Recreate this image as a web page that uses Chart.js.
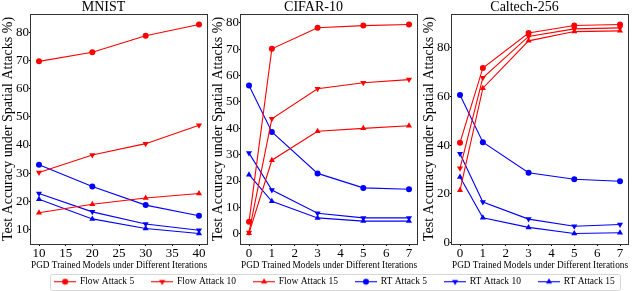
<!DOCTYPE html>
<html>
<head>
<meta charset="utf-8">
<script src="https://cdn.jsdelivr.net/npm/chart.js@4.4.0/dist/chart.umd.min.js"></script>
<style>
body { margin: 0; background: #fff; width: 640px; height: 291px; position: relative; overflow: hidden; }
canvas { position: absolute; }
</style>
</head>
<body>
<canvas id="chartMnist" style="left:-10px;top:0px" width="230" height="272"></canvas>
<canvas id="chartCifar" style="left:200px;top:0px" width="230" height="272"></canvas>
<canvas id="chartCaltech" style="left:411px;top:0px" width="230" height="272"></canvas>
<canvas id="chartLegend" style="left:0px;top:259px" width="640" height="70"></canvas>
<script>
// series names
const seriesNames = ['Flow Attack 5', 'Flow Attack 10', 'Flow Attack 15', 'RT Attack 5', 'RT Attack 10', 'RT Attack 15'];

// MNIST
const mnistIters = [10, 20, 30, 40];
const mnistFlow5 = [69.7, 72.9, 78.8, 82.8];
const mnistFlow10 = [30.3, 36.5, 40.5, 47.0];
const mnistFlow15 = [16.0, 19.0, 21.2, 22.8];
const mnistRT5 = [33.0, 25.3, 18.7, 14.9];
const mnistRT10 = [22.8, 16.3, 12.0, 9.8];
const mnistRT15 = [20.8, 13.8, 10.4, 8.6];
const mnistXTicks = [10, 15, 20, 25, 30, 35, 40];
const mnistYTicks = [10, 20, 30, 40, 50, 60, 70, 80];

// CIFAR-10
const cifarIters = [0, 1, 3, 5, 7];
const cifarFlow5 = [4.5, 70.2, 78.2, 79.0, 79.4];
const cifarFlow10 = [0.5, 43.6, 55.0, 57.3, 58.5];
const cifarFlow15 = [0.2, 27.9, 38.9, 40.0, 41.0];
const cifarRT5 = [56.3, 38.6, 22.9, 17.4, 16.9];
const cifarRT10 = [30.6, 16.6, 7.8, 6.0, 6.0];
const cifarRT15 = [22.4, 12.3, 6.0, 4.8, 4.8];
const cifarXTicks = [0, 1, 2, 3, 4, 5, 6, 7];
const cifarYTicks = [0, 10, 20, 30, 40, 50, 60, 70, 80];

// Caltech-256
const caltechIters = [0, 1, 3, 5, 7];
const caltechFlow5 = [41.0, 71.6, 85.9, 89.0, 89.4];
const caltechFlow10 = [30.5, 67.6, 84.5, 87.6, 88.0];
const caltechFlow15 = [21.5, 63.3, 82.7, 86.5, 86.8];
const caltechRT5 = [60.5, 41.2, 28.7, 26.0, 25.2];
const caltechRT10 = [36.5, 16.7, 9.7, 6.8, 7.5];
const caltechRT15 = [26.9, 10.2, 6.3, 3.8, 4.1];
const caltechXTicks = [0, 1, 2, 3, 4, 5, 6, 7];
const caltechYTicks = [0, 20, 40, 60, 80];

const RED = 'rgb(255, 0, 0)';
const BLUE = 'rgb(0, 0, 255)';
const FONT = "'Liberation Serif', 'DejaVu Serif', serif";
const styles = [
    { color: RED, pointStyle: 'circle', rotation: 0, radius: 3 },
    { color: RED, pointStyle: 'triangle', rotation: 180, radius: 3.5 },
    { color: RED, pointStyle: 'triangle', rotation: 0, radius: 3.5 },
    { color: BLUE, pointStyle: 'circle', rotation: 0, radius: 3 },
    { color: BLUE, pointStyle: 'triangle', rotation: 180, radius: 3.5 },
    { color: BLUE, pointStyle: 'triangle', rotation: 0, radius: 3.5 }
];

// caixa em volta da area do grafico
const framePlugin = {
    id: 'frame',
    afterDraw(chart) {
        const a = chart.chartArea;
        const g = chart.ctx;
        g.save();
        g.strokeStyle = '#333';
        g.lineWidth = 1;
        g.strokeRect(Math.round(a.left) - 0.5, Math.round(a.top) + 0.5, Math.round(a.right - a.left) + 1, Math.round(a.bottom - a.top));
        g.restore();
    }
};

function montarDatasets(iters, series) {
    return series.map((vals, i) => ({
        label: seriesNames[i],
        data: iters.map((x, j) => ({ x: x, y: vals[j] })),
        borderColor: styles[i].color,
        backgroundColor: styles[i].color,
        pointStyle: styles[i].pointStyle,
        rotation: styles[i].rotation,
        pointRadius: styles[i].radius,
        pointBorderWidth: 0,
        borderWidth: 1.1,
        tension: 0
    }));
}

function criarPainel(id, titulo, iters, series, xTicks, yTicks, xLim, yLim) {
    const ctx = document.getElementById(id).getContext('2d');
    return new Chart(ctx, {
        type: 'line',
        data: { datasets: montarDatasets(iters, series) },
        options: {
            responsive: false,
            animation: false,
            devicePixelRatio: 1,
            layout: { padding: { left: 10, right: 13, top: 0, bottom: 0 } },
            plugins: {
                legend: { display: false },
                tooltip: { enabled: false },
                title: {
                    display: true,
                    text: titulo,
                    color: '#000',
                    font: { family: FONT, size: 14, weight: 'normal', lineHeight: 1 },
                    padding: { top: 0, bottom: 0 }
                }
            },
            scales: {
                x: {
                    type: 'linear',
                    min: xLim[0],
                    max: xLim[1],
                    afterBuildTicks: s => { s.ticks = xTicks.map(v => ({ value: v })); },
                    afterFit: s => { s.height = 28; },
                    border: { display: false },
                    grid: { drawOnChartArea: false, drawTicks: true, tickLength: 2, color: '#000' },
                    ticks: { color: '#000', padding: 1, maxRotation: 0, autoSkip: false, font: { family: FONT, size: 13, lineHeight: 1 } },
                    title: {
                        display: true,
                        text: 'PGD Trained Models under Different Iterations',
                        color: '#000',
                        font: { family: FONT, size: 11.4, lineHeight: 1.2 },
                        padding: { top: 0, bottom: 0 }
                    }
                },
                y: {
                    min: yLim[0],
                    max: yLim[1],
                    afterBuildTicks: s => { s.ticks = yTicks.map(v => ({ value: v })); },
                    afterFit: s => { s.width = 31; },
                    border: { display: false },
                    grid: { drawOnChartArea: false, drawTicks: true, tickLength: 2, color: '#000' },
                    ticks: { color: '#000', padding: 0, autoSkip: false, font: { family: FONT, size: 13, lineHeight: 1 } },
                    title: {
                        display: true,
                        text: 'Test Accuracy under Spatial Attacks %)',
                        color: '#000',
                        font: { family: FONT, size: 14, lineHeight: 1.2 },
                        padding: { top: 0, bottom: 0 }
                    }
                }
            }
        },
        plugins: [framePlugin]
    });
}

criarPainel('chartMnist', 'MNIST', mnistIters,
    [mnistFlow5, mnistFlow10, mnistFlow15, mnistRT5, mnistRT10, mnistRT15],
    mnistXTicks, mnistYTicks, [8.5, 41.5], [4.9, 86.5]);
criarPainel('chartCifar', 'CIFAR-10', cifarIters,
    [cifarFlow5, cifarFlow10, cifarFlow15, cifarRT5, cifarRT10, cifarRT15],
    cifarXTicks, cifarYTicks, [-0.35, 7.35], [-3.9, 83.4]);
criarPainel('chartCaltech', 'Caltech-256', caltechIters,
    [caltechFlow5, caltechFlow10, caltechFlow15, caltechRT5, caltechRT10, caltechRT15],
    caltechXTicks, caltechYTicks, [-0.35, 7.35], [-0.5, 93.7]);

/* Legenda */
function simboloLegenda(st) {
    const c = document.createElement('canvas');
    c.width = 22; c.height = 9;
    const g = c.getContext('2d');
    g.strokeStyle = st.color;
    g.fillStyle = st.color;
    g.lineWidth = 1.1;
    g.beginPath(); g.moveTo(0, 4.5); g.lineTo(22, 4.5); g.stroke();
    Chart.helpers.drawPoint(g, { pointStyle: st.pointStyle, rotation: st.rotation, radius: st.radius, borderWidth: 0 }, 11, 4.5);
    return c;
}

const legendFrame = {
    id: 'legendFrame',
    afterDraw(chart) {
        const boxes = chart.legend.legendHitBoxes;
        if (!boxes || !boxes.length) return;
        const left = Math.min(...boxes.map(b => b.left)) - 5;
        const right = Math.max(...boxes.map(b => b.left + b.width)) + 5;
        const top = Math.min(...boxes.map(b => b.top)) - 3;
        const bottom = Math.max(...boxes.map(b => b.top + b.height)) + 3;
        const g = chart.ctx;
        g.save();
        g.strokeStyle = '#d6d6d6';
        g.lineWidth = 1;
        g.beginPath();
        g.roundRect(Math.round(left) + 0.5, Math.round(top) + 0.5, Math.round(right - left), Math.round(bottom - top), 2);
        g.stroke();
        g.restore();
    }
};

var legendChart = new Chart(document.getElementById('chartLegend').getContext('2d'), {
    type: 'line',
    data: {
        datasets: seriesNames.map((n, i) => ({ label: n, data: [], borderColor: styles[i].color, backgroundColor: styles[i].color }))
    },
    options: {
        responsive: false,
        animation: false,
        devicePixelRatio: 1,
        layout: { padding: { left: 30, right: 0, top: 0, bottom: 0 } },
        scales: { x: { display: false }, y: { display: false } },
        plugins: {
            tooltip: { enabled: false },
            title: { display: false },
            legend: {
                display: true,
                position: 'top',
                maxHeight: 40,
                labels: {
                    usePointStyle: true,
                    pointStyleWidth: 20,
                    padding: 18,
                    color: '#000',
                    font: { family: FONT, size: 9.5 },
                    generateLabels: chart => seriesNames.map((n, i) => ({
                        text: n,
                        datasetIndex: i,
                        pointStyle: simboloLegenda(styles[i]),
                        fillStyle: styles[i].color,
                        strokeStyle: styles[i].color,
                        lineWidth: 0,
                        hidden: false,
                        fontColor: '#000'
                    }))
                }
            }
        }
    },
    plugins: [legendFrame]
});
</script>
</body>
</html>
